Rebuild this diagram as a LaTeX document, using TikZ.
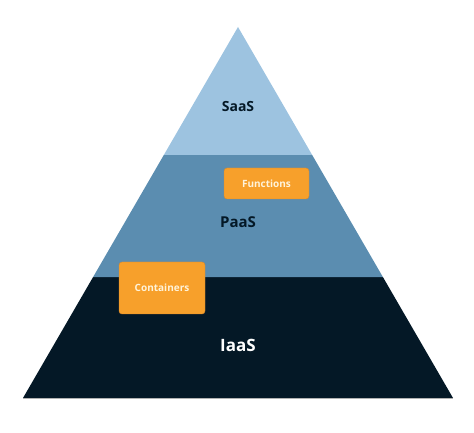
\documentclass[tikz,border=0pt]{standalone}
\usepackage{fontspec}
\setmainfont{Open Sans}
\usepackage{tikz}
\usetikzlibrary{calc}
\definecolor{saascol}{HTML}{9DC3E0}
\definecolor{paascol}{HTML}{5B8DB0}
\definecolor{iaascol}{HTML}{041826}
\definecolor{boxcol}{HTML}{F7A02B}
\definecolor{boxline}{HTML}{D8862A}
\definecolor{boxtext}{HTML}{FFF3D9}
\tikzset{
  layer/.style = {align=center, inner sep=0pt, font=\bfseries},
  tag/.style = {draw=boxline, fill=boxcol, rounded corners=3pt, text=boxtext, font=\bfseries\fontsize{10}{12}\selectfont, inner sep=0pt}
}
\begin{document}
\begin{tikzpicture}[x=1pt,y=1pt]
\useasboundingbox (0,0) rectangle (474,433);
\coordinate (apex) at (238,406);
\coordinate (bl) at (23,35);
\coordinate (br) at (453,35);
% layers
\fill [iaascol] (bl) -- (br) -- ($(apex)!0.674!(br)$) -- ($(apex)!0.674!(bl)$) -- cycle;
\fill [paascol] ($(apex)!0.674!(bl)$) -- ($(apex)!0.674!(br)$) -- ($(apex)!0.345!(br)$) -- ($(apex)!0.345!(bl)$) -- cycle;
\fill [saascol] ($(apex)!0.345!(bl)$) -- ($(apex)!0.345!(br)$) -- (apex) -- cycle;
\draw [black!30, line width=0.6pt] (bl) -- (br);
\node [layer, text=iaascol, font=\bfseries\fontsize{14}{16}\selectfont] (saas) at (238,326) {SaaS};
\node [layer, text=iaascol, font=\bfseries\fontsize{15}{17}\selectfont] (paas) at (238,211) {PaaS};
\node [layer, text=white, font=\bfseries\fontsize{17}{19}\selectfont] (iaas) at (238,88) {IaaS};
\node [tag, minimum width=85pt, minimum height=31pt] (func) at (266.5,249.5) {Functions};
\node [tag, minimum width=86pt, minimum height=52pt] (cont) at (162,145) {Containers};
\end{tikzpicture}
\end{document}
